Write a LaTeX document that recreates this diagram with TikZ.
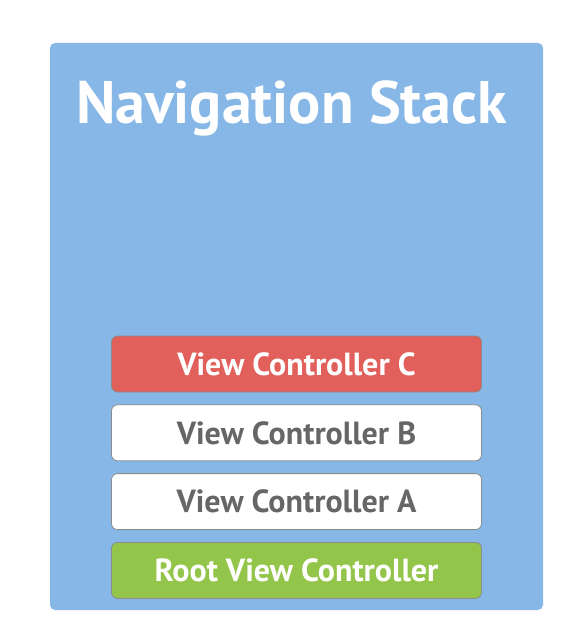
\documentclass[tikz,border=0pt]{standalone}
\usepackage{fontspec}
\setmainfont{PT Sans}
\usetikzlibrary{positioning}
\definecolor{stackblue}{RGB}{134,183,230}
\definecolor{ctrlred}{RGB}{226,96,91}
\definecolor{rootgreen}{RGB}{147,197,75}
\definecolor{labelgray}{RGB}{102,102,102}
\definecolor{edgegray}{RGB}{140,140,140}
\tikzset{
  vcbox/.style={draw=edgegray, line width=0.8pt, rounded corners=6pt, minimum width=370pt, minimum height=56pt, inner sep=0pt, font=\fontsize{32}{32}\selectfont\bfseries},
}

\begin{document}
\begin{tikzpicture}[x=1pt,y=-1pt]
\useasboundingbox (0,0) rectangle (586,642);
\fill [stackblue, rounded corners=5pt] (50,43) rectangle (543,610);

\node (title) [anchor=base, white, font=\fontsize{60}{60}\selectfont\bfseries] at (291.5,123) {Navigation Stack};

\node (vcC) [vcbox, fill=ctrlred, text=white] at (296.5,364) {View Controller C};
\node (vcB) [vcbox, fill=white, text=labelgray, below=12pt of vcC] {View Controller B};
\node (vcA) [vcbox, fill=white, text=labelgray, below=12pt of vcB] {View Controller A};
\node (root) [vcbox, fill=rootgreen, text=white, below=12pt of vcA] {Root View Controller};

\end{tikzpicture}
\end{document}
